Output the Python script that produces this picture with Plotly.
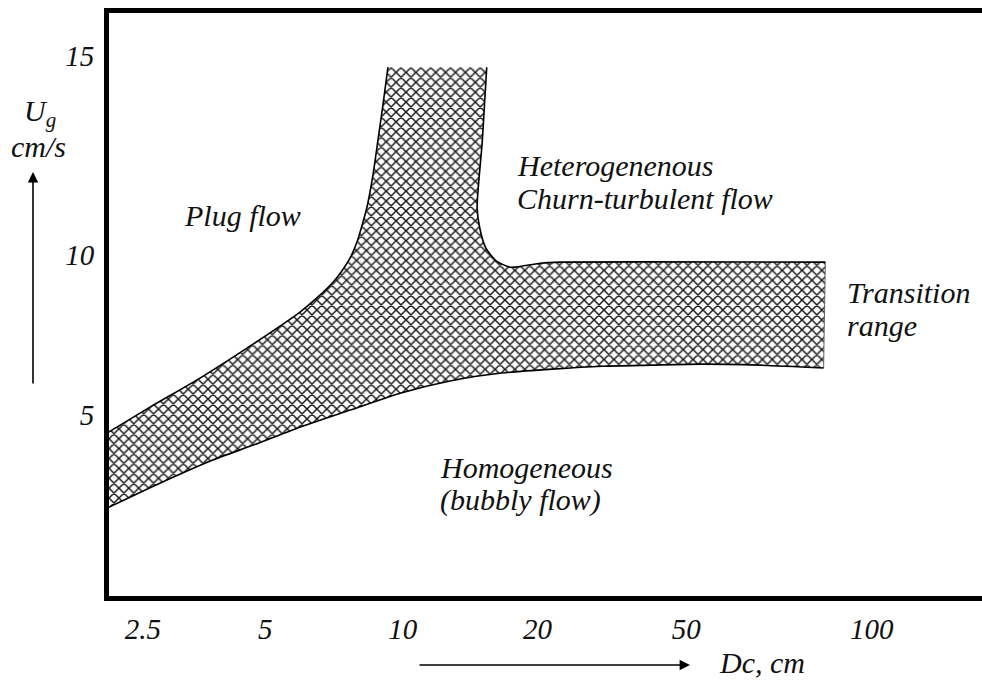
import plotly.graph_objects as go

# ---------------- data (schematic diagram units) ----------------
# x: relative position along the Dc axis (0-100 of the drawing width)
# y: superficial gas velocity Ug, cm/s
x_tick_pos = [4.1, 18.1, 33.8, 49.2, 66.2, 87.4]
x_tick_text = ["2.5", "5", "10", "20", "50", "100"]
y_tick_pos = [5.0, 9.46, 15.0]
y_tick_text = ["5", "10", "15"]

# upper boundary of the transition band (left branch, up the left side of the neck)
upper_left_x = [0.0, 4.91, 10.63, 16.34, 22.06, 24.11, 25.83, 26.74, 27.77, 28.57,
                29.26, 29.71, 30.40, 30.97, 31.54, 32.11]
upper_left_y = [4.50, 5.22, 6.03, 6.92, 7.87, 8.29, 8.70, 8.98, 9.37, 9.82,
                10.38, 10.79, 11.69, 12.66, 13.64, 14.69]

# right side of the neck, then the flat top of the band
upper_right_x = [43.4, 42.9, 42.3, 42.6, 43.3, 44.5, 46.1, 49.5, 51.8, 82.1]
upper_right_y = [14.69, 12.66, 10.79, 10.21, 9.65, 9.29, 9.12, 9.23, 9.26, 9.26]

# lower boundary of the band (right to left)
lower_x = [81.9, 74.6, 67.8, 62.1, 56.6, 50.9, 45.1, 39.2, 33.5, 27.8, 22.1, 16.8, 12.1, 6.1, 0.0]
lower_y = [6.31, 6.39, 6.42, 6.39, 6.36, 6.28, 6.17, 5.95, 5.61, 5.14, 4.67, 4.17, 3.75, 3.11, 2.41]

X_RANGE = [0.23, 100]
Y_RANGE = [-0.04, 16.20]

FONT = "Liberation Serif"
FS = 30
FS_TICK = 29

fig = go.Figure()

# hatched transition region (closed polygon; corners repeated to keep them sharp)
poly_x = ([upper_left_x[0]] + upper_left_x + [upper_left_x[-1]]
          + [upper_right_x[0]] + upper_right_x + [upper_right_x[-1]]
          + [lower_x[0]] + lower_x + [lower_x[-1]])
poly_y = ([upper_left_y[0]] + upper_left_y + [upper_left_y[-1]]
          + [upper_right_y[0]] + upper_right_y + [upper_right_y[-1]]
          + [lower_y[0]] + lower_y + [lower_y[-1]])
fig.add_trace(go.Scatter(
    x=poly_x + [poly_x[0]], y=poly_y + [poly_y[0]],
    mode="lines", fill="toself",
    line=dict(color="rgba(0,0,0,0)", width=0, shape="spline", smoothing=0.6),
    fillcolor="white",
    fillpattern=dict(shape="x", size=7, solidity=0.38, fgcolor="#1a1a1a",
                     bgcolor="white", fillmode="replace"),
    hoverinfo="skip", showlegend=False,
))

# boundary lines
for xs, ys in [(upper_left_x, upper_left_y),
               (upper_right_x, upper_right_y),
               (lower_x, lower_y)]:
    fig.add_trace(go.Scatter(
        x=xs, y=ys, mode="lines",
        line=dict(color="black", width=1.6, shape="spline", smoothing=0.6),
        hoverinfo="skip", showlegend=False,
    ))
# right edge of the band
fig.add_trace(go.Scatter(
    x=[upper_right_x[-1], lower_x[0]], y=[upper_right_y[-1], lower_y[0]],
    mode="lines", line=dict(color="#444444", width=0.8),
    hoverinfo="skip", showlegend=False,
))

W, H = 982, 682
L, R, T, B = 109, 0, 13, 86
PW, PH = W - L - R, H - T - B


def xp(px):
    return (px - L) / PW


def yp(py):
    return (H - B - py) / PH


def txt(s, px, py, xanchor="left", size=FS):
    fig.add_annotation(
        text=s, x=xp(px), y=yp(py), xref="paper", yref="paper",
        xanchor=xanchor, yanchor="middle", showarrow=False,
        font=dict(family=FONT, size=size, color="#111111", style="italic"),
    )


txt("Plug flow", 242, 216, "center")
txt("Heterogenenous", 515, 165)
txt("Churn-turbulent flow", 515, 198)
txt("Transition", 845, 292)
txt("range", 845, 326)
txt("Homogeneous", 438, 467)
txt("(bubbly flow)", 438, 500)
txt("U<sub>g</sub>", 40, 113, "center")
txt("cm/s", 38, 146, "center")
txt("Dc, cm", 762, 662, "center")

# axis arrows
fig.add_annotation(
    x=xp(33), y=yp(172), xref="paper", yref="paper",
    ax=0, ay=213, axref="pixel", ayref="pixel",
    showarrow=True, arrowhead=2, arrowsize=1.3, arrowwidth=1.6,
    arrowcolor="black", text="",
)
fig.add_annotation(
    x=xp(690), y=yp(665), xref="paper", yref="paper",
    ax=-272, ay=0, axref="pixel", ayref="pixel",
    showarrow=True, arrowhead=2, arrowsize=1.3, arrowwidth=1.6,
    arrowcolor="black", text="",
)

fig.update_layout(
    width=W, height=H,
    margin=dict(l=L, r=R, t=T, b=B, pad=0),
    paper_bgcolor="white", plot_bgcolor="white",
    showlegend=False,
)
fig.update_xaxes(
    range=X_RANGE, tickmode="array", tickvals=x_tick_pos, ticktext=x_tick_text,
    showgrid=False, zeroline=False, showline=True, linecolor="black",
    linewidth=5, mirror=True, ticks="", ticklabelstandoff=3,
    tickfont=dict(family=FONT, size=FS_TICK, color="#111111", style="italic"),
    fixedrange=True,
)
fig.update_yaxes(
    range=Y_RANGE, tickmode="array", tickvals=y_tick_pos, ticktext=y_tick_text,
    showgrid=False, zeroline=False, showline=True, linecolor="black",
    linewidth=5, mirror=False, ticks="", ticklabelstandoff=4,
    tickfont=dict(family=FONT, size=FS_TICK, color="#111111", style="italic"),
    fixedrange=True,
)

fig.write_html(
    "out.html",
    config={"displayModeBar": False},
    post_script="document.body.style.margin='0px';document.body.style.overflow='hidden';",
)
